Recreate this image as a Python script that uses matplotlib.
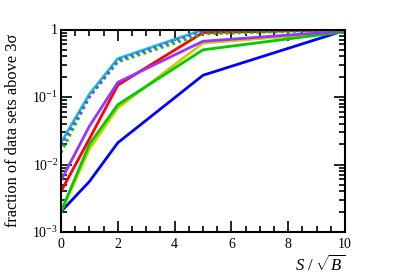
import matplotlib
matplotlib.use("Agg")
import matplotlib.pyplot as plt
from matplotlib.ticker import FixedLocator, FixedFormatter, LogLocator, MultipleLocator, NullFormatter

plt.rcParams['font.family'] = ['Liberation Serif', 'DejaVu Serif']
plt.rcParams['mathtext.fontset'] = 'custom'
plt.rcParams['mathtext.rm'] = 'Liberation Serif'
plt.rcParams['mathtext.it'] = 'Liberation Serif:italic'

x = [0, 1, 2, 5, 10]
blue = [0.0020, 0.0056, 0.021, 0.21, 0.97]
red = [0.0040, 0.024, 0.15, 0.90, 0.99]
green = [0.0020, 0.020, 0.077, 0.50, 0.93]
yellow = [0.0020, 0.017, 0.069, 0.63, 0.92]
purple = [0.0058, 0.037, 0.165, 0.67, 0.95]
cyan = [0.021, 0.11, 0.37, 0.99, 1.0]
green_dot = [0.015, 0.10, 0.33, 0.86, 0.98]
purple_dot = [0.019, 0.10, 0.35, 0.95, 0.99]

ytick_vals = [1e-3, 1e-2, 1e-1, 1]
ytick_labels = [r'$10^{-3}$', r'$10^{-2}$', r'$10^{-1}$', '1']
xtick_vals = [0, 2, 4, 6, 8, 10]

fig = plt.figure(figsize=(4.07, 2.76), dpi=100)
ax = fig.add_axes([61/407, 1 - 232/276, (345-61)/407, (232-29.5)/276])

lw = 2.0
ax.plot(x, blue, color='#0000ff', lw=lw)
ax.plot(x, red, color='#ff0000', lw=lw)
ax.plot(x, yellow, color='#cccc00', lw=lw)
ax.plot(x, green, color='#00cc00', lw=lw)
ax.plot(x, purple, color='#9933ff', lw=lw)
ax.plot(x, green_dot, color='#00cc00', lw=lw, ls=(0, (1, 1.2)))
ax.plot(x, cyan, color='#00cccc', lw=lw)
ax.plot(x, purple_dot, color='#9933ff', lw=lw, ls=(0, (1, 1.2)))

ax.set_yscale('log')
ax.set_xlim(0, 10)
ax.set_ylim(1e-3, 1)
ax.yaxis.set_major_locator(FixedLocator(ytick_vals))
ax.yaxis.set_major_formatter(FixedFormatter(ytick_labels))
ax.yaxis.set_minor_locator(LogLocator(base=10, subs=range(2, 10), numticks=20))
ax.yaxis.set_minor_formatter(NullFormatter())
ax.xaxis.set_major_locator(FixedLocator(xtick_vals))
ax.xaxis.set_minor_locator(MultipleLocator(0.5))

ax.tick_params(which='both', direction='in', top=True, right=True, width=1.2, labelsize=10)
ax.tick_params(which='major', length=8)
ax.tick_params(which='minor', length=4)
ax.tick_params(axis='x', pad=4)
ax.tick_params(axis='y', pad=2)
for s in ax.spines.values():
    s.set_linewidth(1.5)

ax.set_ylabel(u'fraction of data sets above 3\u03c3', fontsize=11.8, labelpad=1)
ax.yaxis.set_label_coords(-40/284, 0.5)
fig.text(345/407, 1 - 271/276, r'$S\ /\ \sqrt{B}$', ha='right', va='baseline', fontsize=12)

fig.savefig('out.png', dpi=100)
